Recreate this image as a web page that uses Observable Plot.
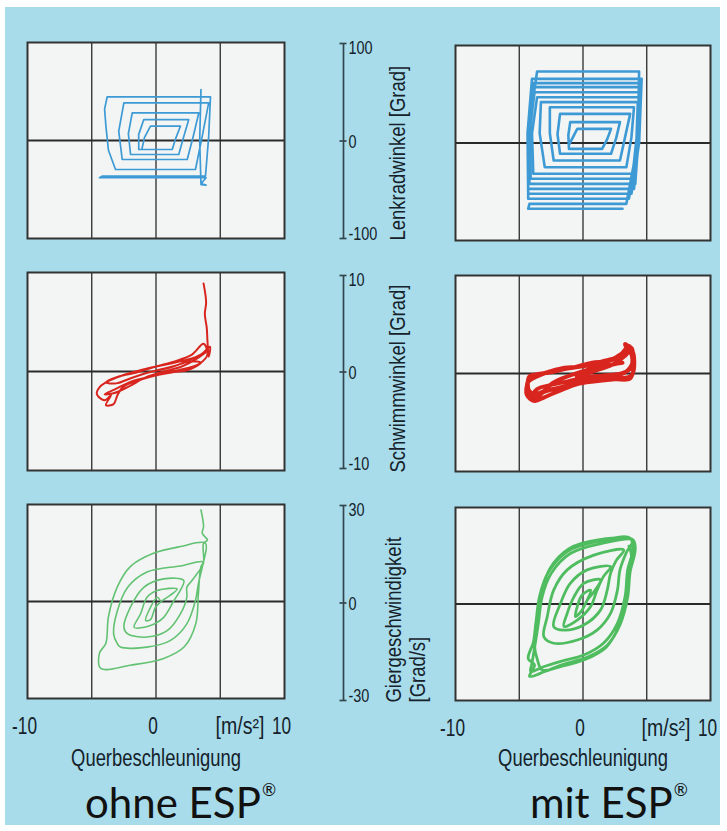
<!DOCTYPE html>
<html><head><meta charset="utf-8">
<script src="https://cdn.jsdelivr.net/npm/d3@7"></script>
<script src="https://cdn.jsdelivr.net/npm/@observablehq/plot@0.6"></script>
<style>
html,body{margin:0;padding:0;background:#fff;}
#wrap{position:relative;width:727px;height:831px;overflow:hidden;background:#fff;}
#bg{position:absolute;left:5px;top:7px;width:715px;height:818px;background:#a8dcea;}
.abs{position:absolute;}
</style></head><body>
<div id="wrap"><div id="bg"></div></div>
<script>
// ---------- data ----------
const xGrid = [-5, 0, 5];
const xTicks = [-10, 0, 10];
const xTickLabels = ["-10", "0", "10"];
const xUnit = "[m/s²]";
const xTitle = "Querbeschleunigung";
const captions = ["ohne ESP", "mit ESP"];

const yTicksLenk = [-100, 0, 100];
const yTicksSchwimm = [-10, 0, 10];
const yTicksGier = [-30, 0, 30];
const yLabelLenk = ["Lenkradwinkel [Grad]"];
const yLabelSchwimm = ["Schwimmwinkel [Grad]"];
const yLabelGier = ["Giergeschwindigkeit", "[Grad/s]"];

// Lenkradwinkel vs Querbeschleunigung, ohne ESP
const lenkOhne = [
 [-1.1,-9],[-0.9,3],[-0.43,14.6],[1.9,14.6],[1.55,2.7],[1.26,-9.2],[-1.34,-9.2],[-1.35,6],
 [-0.95,21.4],[2.55,21.4],[2.15,3.5],[1.77,-14.3],[-1.98,-14.3],[-2.15,7],[-1.85,28.2],
 [3.33,28.2],[2.9,4.4],[2.43,-19.4],[-2.63,-19.4],[-2.9,9.5],[-2.5,38.4],[4.1,38.4],
 [3.6,4.4],[3.07,-29.6],[-3.15,-29.6],[-3.7,-10],[-3.9,15],[-4.0,32],[-3.8,44.6],
 [4.24,44.6],[4.1,4],[3.85,-36.4],[-4.19,-36.4],[-4.4,-38],[3.9,-38],[3.5,-44],[3.9,-45.5],
 [3.5,-45],[3.4,0],[3.5,52]
];
// Lenkradwinkel vs Querbeschleunigung, mit ESP
const lenkMit = [
 [-1.1,-2],[-0.45,14.5],[2.2,14.5],[1.9,4],[1.5,-6],[-1.1,-6],[-1.15,8],[-1.0,21.4],
 [2.9,21.4],[2.6,5],[2.2,-11],[-1.8,-11],[-2.0,9],[-1.8,29.9],[3.7,29.9],[3.3,6],[2.9,-18],
 [-2.3,-18],[-2.6,10],[-2.6,36.7],[4.0,36.7],[3.8,6],[3.4,-24.8],[-3.0,-24.8],[-3.4,10],
 [-3.3,41.9],[4.3,41.9],[4.2,5],[3.9,-31.6],[-3.9,-31.6],[-4.0,10],[-3.6,47],[4.4,47],
 [4.3,5],[4.1,-36.7],[-4.1,-36.7],[-4.2,10],[-3.8,52.1],[4.5,52.1],[4.35,5],[4.1,-41.9],
 [-4.2,-41.9],[-4.3,10],[-3.9,57.3],[4.5,57.3],[4.4,5],[4.0,-47],[-4.3,-47],[-4.3,10],
 [-3.9,61.4],[4.5,61.4],[4.4,0],[3.8,-52.1],[-4.3,-52.1],[-4.35,10],[-4.0,65.8],[4.6,65.8],
 [4.4,0],[3.6,-57.2],[-4.3,-57.2],[-4.3,10],[-3.6,73.3],[4.4,73.3],[4.3,0],[3.4,-62.4],
 [-4.2,-62.4],[-4.3,-67.5],[3.1,-67.5]
];
// Schwimmwinkel, ohne ESP
const schwimmOhne = [
 [0.0,0.1],[1.3,0.5],[2.6,1.0],[3.5,0.9],[2.6,0.2],[1.2,-0.1],[-0.4,-0.5],[-1.9,-1.0],
 [-3.2,-1.8],[-4.0,-2.3],[-3.3,-2.2],[-2.1,-1.5],[-0.8,-0.6],[0.6,0.0],[2.0,0.5],[3.3,1.4],
 [3.9,2.0],[3.2,1.5],[1.8,1.0],[0.4,0.6],[-1.0,0.2],[-2.4,-0.3],[-3.6,-0.9],[-4.4,-1.6],
 [-4.6,-2.3],[-4.0,-2.9],[-3.5,-2.4],[-3.9,-3.4],[-3.3,-3.3],[-3.0,-2.4],[-2.6,-1.6],
 [-1.6,-1.0],[-0.5,-0.55],[0.9,-0.1],[2.3,0.3],[3.4,0.8],[4.0,1.7],[3.7,2.8],[2.8,1.7],
 [1.4,1.0],[0.0,0.5],[-1.5,-0.1],[-2.9,-0.5],[-3.9,-1.1],[-3.1,-1.2],[-1.8,-0.6],[-0.3,0.0],
 [1.1,0.4],[2.5,1.1],[3.6,1.8],[4.2,2.5],[4.1,1.5],[4.0,3.2],[3.95,4.4],[3.8,5.8],
 [3.9,7.0],[3.7,8.9]
];
// Schwimmwinkel, mit ESP
const schwimmMit = [
 [-0.5,-0.3],[1.0,0.3],[2.3,0.9],[3.3,1.8],[3.8,2.6],[3.9,1.2],[3.4,0.2],[2.2,-0.4],
 [0.8,-0.7],[-0.6,-1.0],[-2.0,-1.5],[-3.3,-2.0],[-4.0,-2.4],[-4.3,-1.5],[-4.2,-0.3],
 [-3.2,0.0],[-1.8,0.5],[-0.3,0.7],[1.2,1.0],[2.5,1.5],[3.4,2.4],[3.3,3.0],[3.9,2.2],
 [4.0,0.9],[3.7,-0.5],[2.5,-0.6],[1.0,-0.8],[-0.5,-1.1],[-1.9,-1.8],[-3.0,-2.4],[-3.8,-2.8],
 [-4.4,-2.2],[-4.3,-0.9],[-3.6,-0.3],[-2.2,0.3],[-0.8,0.6],[0.7,1.1],[2.0,1.3],[3.0,2.0],
 [3.6,2.8],[4.0,1.6],[3.8,-0.2],[2.8,-0.5],[1.4,-0.4],[0.0,-0.6],[-1.4,-1.3],[-2.8,-1.7],
 [-3.9,-2.1],[-4.4,-1.2],[-3.9,-0.2],[-2.6,0.1],[-1.2,0.5],[0.3,0.8],[1.7,1.3],[2.9,1.7],
 [3.7,2.1],[3.8,0.6],[3.0,0.0],[1.6,-0.2],[0.2,-0.4],[-1.2,-0.8],[-2.6,-1.2],[-3.6,-1.6],
 [-4.1,-2.6],[-3.5,-2.3],[-2.4,-1.0],[-1.0,-0.2],[0.4,0.4],[1.8,0.8],[3.1,1.1]
];
// Giergeschwindigkeit, ohne ESP
const gierOhne = [
 [0.3,0.5],[0.1,1.3],[-0.43,-1.8],[-0.8,-5.9],[-0.43,-5.6],[-0.04,-1.8],[0.5,0.3],[1.1,1.9],
 [1.65,3.9],[0.1,3.4],[-0.7,1.3],[-1.2,-3.8],[-1.7,-8],[-0.43,-7.4],[0.6,-4.9],[1.4,0.3],[1.9,3.5],
 [2.16,6.5],[0.6,7.0],[-0.95,4.4],[-2.0,-1.8],[-2.5,-8],[-2.2,-10],[-0.7,-11],[0.87,-9],
 [1.9,-3.8],[2.4,1.3],[2.4,4.4],[2.8,6.5],[3.7,12.2],[1.9,11],[-0.7,9.1],[-2.2,4.4],
 [-3.0,-2.8],[-3.3,-10],[-3.0,-13.1],[-2.76,-14.1],[-0.7,-14.1],[1.1,-12.1],[2.4,-6.9],
 [3.07,0.3],[3.3,5.5],[3.6,10.6],[3.7,12.3],[3.85,18],[1.9,17],[-0.2,14.9],[-2.0,10.8],
 [-3.0,4.6],[-3.7,-4.7],[-3.9,-12.9],[-4.4,-16],[-4.3,-20.7],[-2.0,-19.7],[0.6,-17.6],
 [2.2,-14],[3.1,-6.8],[3.3,2.5],[3.5,10.8],[3.7,12.3],[3.7,18],[4.0,19],[3.6,21.1],
 [3.7,23.2],[3.5,28.3]
];
// Giergeschwindigkeit, mit ESP
const gierMit = [
 [0.33,1.2],[0.6,4.3],[-0.07,2.8],[-0.45,-0.8],[-0.6,-3.9],[-0.07,-1.9],[0.33,1.2],[0.8,3.5],
 [1.37,7.5],[0.06,6.4],[-0.7,2.3],[-1.24,-2.9],[-1.5,-7],[-0.45,-5],[0.6,-0.8],[1.1,4.3],[1.6,8.5],
 [2.16,11.6],[0.33,10.6],[-1.0,6.4],[-1.76,0.2],[-2.3,-7],[-1.5,-8.1],[0.06,-6.5],[1.37,-1.9],
 [1.9,4.3],[2.16,9.5],[2.6,13.5],[3.2,16.8],[0.85,15.2],[-1.24,10.6],[-2.3,4.3],[-2.8,-3.9],
 [-3.07,-10.2],[-2.3,-12.2],[-0.45,-11.2],[1.1,-8.1],[2.16,-2.9],[2.7,4.3],[2.9,10.6],[3.4,16],
 [3.9,19.9],[1.4,18.8],[-1.0,15.7],[-2.5,9.5],[-3.2,2.3],[-3.5,-6],[-3.7,-11.2],[-4.0,-18.4],
 [-4.1,-21],[-3.1,-19.5],[-1.8,-17.9],[0.1,-15.8],[1.6,-12.2],[2.7,-6],[3.3,2.3],[3.5,10.6],
 [3.9,16.8],[3.7,20.5],[1.2,19.5],[-1.2,16.4],[-2.7,10],[-3.4,2.5],[-3.7,-6],[-3.9,-12],
 [-4.3,-17],[-3.8,-19],[-4.2,-22.5],[-3.0,-21],[-1.6,-18.8],[0.3,-16.6],[1.9,-12.8],
 [2.9,-6.5],[3.5,2],[3.7,10],[4.1,17],[3.9,20],[1.3,20],[-1.1,17.2],[-2.6,11],[-3.3,3],
 [-3.6,-5],[-3.8,-13],[-3.6,-17],[-3.2,-20.5],[-1.7,-19.4],[0.2,-17.2],[1.8,-13.5],[2.8,-7],
 [3.4,1.5],[3.6,9],[3.8,15],[3.6,18]
];

// ---------- helpers ----------
const FONT = "Liberation Sans, Arial, Helvetica, sans-serif";
function hasFont(f){
  const c = document.createElement("canvas").getContext("2d");
  const s = "mmmmmmmmmmlli1WQ[]";
  c.font = "40px monospace"; const a = c.measureText(s).width;
  c.font = `40px "${f}", monospace`; const b = c.measureText(s).width;
  return Math.abs(a-b) > 0.5;
}
const CAP = ["Lato","Open Sans","Noto Sans"].find(hasFont) || "sans-serif";

const TXT = "#15222a", AX = "#33464f", GRID = "#2a2a2a", FRAME = "#333", FILL = "#f3f5f5";
const wrap = document.getElementById("wrap");

function place(el, left, top){
  el.classList.add("abs"); el.style.left = left+"px"; el.style.top = top+"px";
  wrap.appendChild(el);
}
// horizontally condense texts of marks whose ariaDescription is "cond<factor>"
function condense(svg){
  svg.querySelectorAll('g[aria-description^="cond"]').forEach(g => {
    const f = +g.getAttribute("aria-description").slice(4);
    g.querySelectorAll("text").forEach(t => {
      const L = t.getComputedTextLength();
      t.setAttribute("textLength", (L*f).toFixed(2));
      t.setAttribute("lengthAdjust", "spacingAndGlyphs");
    });
  });
}

function panel(cfg){
  const m = 2, side = cfg.bottomAxis ? 34 : 2, mb = cfg.bottomAxis ? 76 : 2;
  const marks = [
    Plot.frame({fill: FILL, stroke: "none"}),
    Plot.ruleX(xGrid, {stroke: GRID, strokeWidth: 1.3}),
    Plot.ruleY([0], {stroke: GRID, strokeWidth: 1.8}),
    Plot.line(cfg.data, {x: d => d[0], y: d => d[1], stroke: cfg.color, strokeWidth: cfg.sw,
      curve: cfg.curve || "linear", strokeLinejoin: "round", strokeLinecap: "round"}),
    Plot.frame({stroke: FRAME, strokeWidth: 2})
  ];
  if (cfg.bottomAxis){
    const bl = 765 - (cfg.y + cfg.h);
    marks.push(
      Plot.text(xTicks, {x: d => d, frameAnchor: "bottom", text: (d,i) => xTickLabels[i], dx: -3, dy: 35,
        lineAnchor: "bottom", fontSize: 24, fill: TXT, fontFamily: FONT, ariaDescription: "cond0.72"}),
      Plot.text([xUnit], {x: 10, frameAnchor: "bottom", text: d => d, dx: -20, dy: 35, textAnchor: "end",
        lineAnchor: "bottom", fontSize: 23, fill: TXT, fontFamily: FONT, ariaDescription: "cond0.85"}),
      Plot.text([xTitle], {x: 0, frameAnchor: "bottom", text: d => d, dy: bl, lineAnchor: "bottom",
        fontSize: 23, fill: TXT, fontFamily: FONT, ariaDescription: "cond0.8"})
    );
  }
  const el = Plot.plot({
    width: cfg.w + 2*side, height: cfg.h + m + mb,
    marginLeft: side, marginRight: side, marginTop: m, marginBottom: mb,
    x: {domain: [-10, 10], axis: null},
    y: {domain: cfg.domain, axis: null},
    style: {background: "transparent", overflow: "visible"},
    marks
  });
  place(el, cfg.x - side, cfg.y - m);
  condense(el);
}

function midAxis(cfg){
  const pad = 14, d = cfg.domain, t = cfg.ticks;
  const labelMarks = cfg.label.map((s, i) =>
    Plot.text([s], {x: cfg.lx[i], y: d[0], text: v => v, rotate: -90, textAnchor: "start", dy: cfg.ldy,
      lineAnchor: "middle", fontSize: 22, fill: TXT, fontFamily: FONT, ariaDescription: "cond0.84"}));
  const el = Plot.plot({
    width: 130, height: cfg.bottom - cfg.top + 2*pad,
    marginTop: pad, marginBottom: pad, marginLeft: 0, marginRight: 0,
    x: {domain: [0, 130], range: [0, 130], axis: null},
    y: {domain: d, axis: null},
    style: {background: "transparent", overflow: "visible"},
    marks: [
      Plot.ruleX([23], {y1: d[0], y2: d[1], stroke: AX, strokeWidth: 1.7}),
      Plot.ruleY(t, {y: v => v, x1: 19.5, x2: 26.5, stroke: AX, strokeWidth: 1.7}),
      Plot.text([t[2]], {x: 28, y: v => v, text: v => String(v), textAnchor: "start", lineAnchor: "top", dy: -3,
        fontSize: 19, fill: TXT, fontFamily: FONT, ariaDescription: "cond0.76"}),
      Plot.text([t[1]], {x: 28, y: v => v, text: v => String(v), textAnchor: "start", lineAnchor: "middle", dy: 1,
        fontSize: 19, fill: TXT, fontFamily: FONT, ariaDescription: "cond0.76"}),
      Plot.text([t[0]], {x: 28, y: v => v, text: v => String(v), textAnchor: "start", lineAnchor: "bottom", dy: 1,
        fontSize: 19, fill: TXT, fontFamily: FONT, ariaDescription: "cond0.76"}),
      ...labelMarks
    ]
  });
  place(el, 320, cfg.top - pad);
  condense(el);
}

// ---------- panels ----------
const BLUE = "#3d9ad5", RED = "#d8261f", GREEN_L = "#62c272", GREEN_R = "#4fbd5f";
panel({x:27, y:42, w:257, h:196, domain:[-100,100], data: lenkOhne, color: BLUE, sw: 1.7});
panel({x:455, y:45, w:255, h:195, domain:[-100,100], data: lenkMit, color: BLUE, sw: 2.6});
panel({x:27, y:272, w:257, h:198, domain:[-10,10], data: schwimmOhne, color: RED, sw: 2, curve: "catmull-rom"});
panel({x:455, y:275, w:255, h:196, domain:[-10,10], data: schwimmMit, color: RED, sw: 4, curve: "catmull-rom"});
panel({x:27, y:504, w:257, h:194, domain:[-30,30], data: gierOhne, color: GREEN_L, sw: 1.6, curve: "catmull-rom", bottomAxis: true});
panel({x:455, y:507, w:255, h:193, domain:[-30,30], data: gierMit, color: GREEN_R, sw: 2.8, curve: "catmull-rom", bottomAxis: true});

midAxis({top:43, bottom:238, domain:[-100,100], ticks: yTicksLenk, label: yLabelLenk, lx: [77], ldy: 2});
midAxis({top:275, bottom:468, domain:[-10,10], ticks: yTicksSchwimm, label: yLabelSchwimm, lx: [77], ldy: 4});
midAxis({top:505, bottom:700, domain:[-30,30], ticks: yTicksGier, label: yLabelGier, lx: [73, 97], ldy: 2});

// ---------- captions ----------
const ns = "http://www.w3.org/2000/svg";
const cap = document.createElementNS(ns, "svg");
cap.setAttribute("width", 727); cap.setAttribute("height", 60);
[[85, captions[0]], [530, captions[1]]].forEach(([x, s]) => {
  const t = document.createElementNS(ns, "text");
  t.setAttribute("x", x); t.setAttribute("y", 48);
  t.setAttribute("font-family", CAP); t.setAttribute("font-size", 42); t.setAttribute("fill", "#111");
  t.textContent = s;
  const r = document.createElementNS(ns, "tspan");
  r.setAttribute("font-size", 17); r.setAttribute("dy", -22); r.setAttribute("dx", 1);
  r.textContent = "®";
  t.appendChild(r);
  cap.appendChild(t);
});
place(cap, 0, 770);
</script></body></html>
